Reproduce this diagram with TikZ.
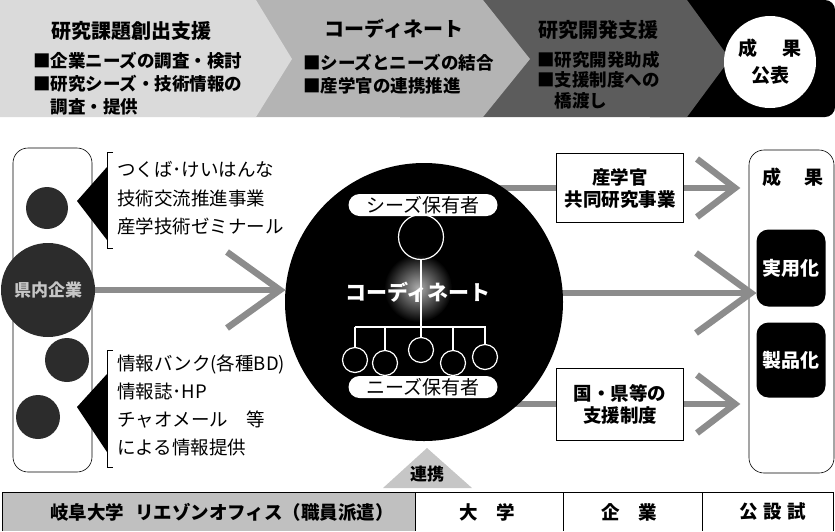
\documentclass[tikz,border=0pt]{standalone}
\usepackage{fontspec}
\setmainfont{Noto Sans CJK JP}
\usetikzlibrary{calc}
\pgfdeclarelayer{bg}
\pgfsetlayers{bg,main}
\definecolor{segA}{HTML}{DADADA}
\definecolor{segB}{HTML}{B4B4B4}
\definecolor{segC}{HTML}{5C5C5C}
\definecolor{glc}{HTML}{8C8C8C}
\definecolor{dkc}{HTML}{2C2C2C}
\definecolor{tabg}{HTML}{C0C0C0}
\definecolor{trig}{HTML}{C6C6C6}
\tikzset{
  gline/.style={line width=6.5pt, draw=glc, line join=miter},
  ttl/.style={font=\fontsize{20}{24}\selectfont\bfseries, inner sep=0},
  tln/.style={font=\fontsize{17.5}{23}\selectfont\bfseries, align=left, inner sep=0, anchor=west},
  bod/.style={font=\fontsize{18.5}{28.5}\selectfont, align=left, inner sep=0, anchor=west},
  pill/.style={fill=white, rounded corners=11pt, minimum width=149pt, minimum height=22pt, inner sep=0, font=\fontsize{19}{22}\selectfont},
  wbox/.style={draw=black, line width=0.6pt, fill=white, minimum width=127pt, inner sep=0, align=center, font=\fontsize{18.5}{22}\selectfont\bfseries},
  bbox/.style={fill=black, rounded corners=12pt, minimum width=69pt, inner sep=0, text=white, font=\fontsize{19}{22}\selectfont\bfseries},
  dot/.style={circle, fill=dkc, inner sep=0},
  wring/.style={circle, draw=white, line width=1.2pt, inner sep=0},
  tabt/.style={font=\fontsize{18.5}{22}\selectfont\bfseries, inner sep=0}
}
\begin{document}
\begin{tikzpicture}[x=1pt,y=-1pt]
\useasboundingbox (0,0) rectangle (835,531);
% ---------- top band ----------
\fill[black, rounded corners=10pt] (640,0) rectangle (835,117);
\fill[segC] (400,0) -- (687,0) -- (730,59) -- (687,117) -- (400,117) -- cycle;
\fill[segB] (200,0) -- (483,0) -- (530,59) -- (483,117) -- (200,117) -- cycle;
\fill[segA] (0,0) -- (256,0) -- (292,59) -- (256,117) -- (0,117) -- cycle;
\node[ttl] (t1) at (131,31) {研究課題創出支援};
\node[tln] (l1) at (33,84) {■企業ニーズの調査・検討\\■研究シーズ・技術情報の\\\hspace{1em}調査・提供};
\node[ttl] (t2) at (394,29) {コーディネート};
\node[tln] (l2) at (303,74) {■シーズとニーズの結合\\■産学官の連携推進};
\node[ttl] (t3) at (598,30) {研究開発支援};
\node[tln, font=\fontsize{17.5}{20.5}\selectfont\bfseries] (l3) at (537,80) {■研究開発助成\\■支援制度への\\\hspace{1em}橋渡し};
\node[circle, fill=white, minimum size=92pt, inner sep=0, align=center,
      font=\fontsize{19}{27}\selectfont\bfseries] (pub) at (770,62) {成\hspace{1.3em}果\\公表};
% ---------- left block ----------
\node[draw=black, line width=0.6pt, rounded corners=15pt, minimum width=79pt, minimum height=324pt] (lrect) at (52.5,310) {};
\node[dot, minimum size=42pt] (c1) at (47,208) {};
\node[dot, minimum size=94pt, text=gray!45, font=\fontsize{17}{20}\selectfont\bfseries] (kennai) at (48,290) {県内企業};
\node[dot, minimum size=44pt] (c3) at (67,360) {};
\node[dot, minimum size=44pt] (c4) at (38,417) {};
% brackets with pointers
\draw[line width=1pt] (113,152) -- (107,152) -- (107,248) -- (113,248);
\fill (107,167) -- (77,201) -- (107,240) -- cycle;
\draw[line width=1pt] (113,350) -- (107,350) -- (107,467) -- (113,467);
\fill (107,374) -- (77,407) -- (107,452) -- cycle;
\node[bod] (b1) at (117,198.5) {つくば･けいはんな\\技術交流推進事業\\産学技術ゼミナール};
\node[bod, font=\fontsize{18.5}{28}\selectfont] (b2) at (117,405) {情報バンク(各種BD)\\情報誌･HP\\チャオメール\hspace{1em}等\\による情報提供};
% ---------- centre ----------
\node[circle, fill=black, minimum size=278pt, inner sep=0] (coord) at (424,302) {};
\shade[inner color=gray!65, outer color=black] (418,288) circle (34);
\node[pill] (seeds) at (423,205) {シーズ保有者};
\node[wring, minimum size=45pt] (sc) at (421,237) {};
\node[pill] (needs) at (423,387) {ニーズ保有者};
\node[text=white, inner sep=0, font=\fontsize{21}{24}\selectfont\bfseries] (cw) at (418,292) {コーディネート};
\coordinate (bar) at (421,327);
\draw[white, line width=1.2pt] (sc) -- (bar);
\draw[white, line width=1.2pt] (355,327) -- (486,327);
\foreach \i/\x/\y in {1/355/360,2/385/363,3/421/350,4/453/363,5/485/357}{
  \node[wring, minimum size=25pt] (n\i) at (\x,\y) {};
  \draw[white, line width=1.2pt] (\x,327) -- (n\i);
}
% ---------- right side ----------
\node[wbox, minimum height=69pt] (box1) at (620,188) {産学官\\共同研究事業};
\node[wbox, minimum height=72pt] (box2) at (620,404) {国・県等の\\支援制度};
\node[draw=black, line width=0.6pt, rounded corners=15pt, minimum width=85pt, minimum height=323pt] (rrect) at (791.5,311.5) {};
\node[inner sep=0, font=\fontsize{19}{22}\selectfont\bfseries] (seika) at (793,177) {成\hspace{1.2em}果};
\node[bbox, minimum height=77pt] (jitsu) at (791,268) {実用化};
\node[bbox, minimum height=75pt] (seihin) at (791,360) {製品化};
% ---------- grey connectors ----------
\coordinate (tipA) at (280,290);
\coordinate (tipM) at (751,293);
\coordinate (tipT) at (735,188);
\coordinate (tipB) at (735,404);
\begin{pgfonlayer}{bg}
  \draw[gline] (kennai.center) -- (tipA);
  \draw[gline] (coord.center |- tipM) -- (tipM);
  \draw[gline] (coord.center |- box1.west) -- (box1.west);
  \draw[gline] (coord.center |- box2.west) -- (box2.west);
\end{pgfonlayer}
\draw[gline] ($(tipA)+(-53,-38)$) -- (tipA) -- ($(tipA)+(-53,38)$);
\draw[gline] ($(tipM)+(-55,-40)$) -- (tipM) -- ($(tipM)+(-55,40)$);
\draw[gline] (box1.east) -- (tipT);
\draw[gline] ($(tipT)+(-38,-29)$) -- (tipT) -- ($(tipT)+(-38,29)$);
\draw[gline] (box2.east) -- (tipB);
\draw[gline] ($(tipB)+(-38,-29)$) -- (tipB) -- ($(tipB)+(-38,29)$);
% ---------- bottom ----------
\fill[trig] (383,488) -- (427,448) -- (472,488) -- cycle;
\node[inner sep=0, font=\fontsize{17}{20}\selectfont\bfseries] (renkei) at (427,474) {連携};
\fill[tabg] (2,492) rectangle (415,531);
\draw[line width=0.8pt] (2,531) -- (2,492) -- (833,492) -- (833,531);
\draw[line width=0.8pt] (415,492) -- (415,531);
\draw[line width=0.8pt] (563,492) -- (563,531);
\draw[line width=0.8pt] (702,492) -- (702,531);
\node[tabt] (gifu) at (222,512) {岐阜大学\hspace{0.6em}リエゾンオフィス（職員派遣）};
\node[tabt] (dai) at (487,512) {大\hspace{1em}学};
\node[tabt] (kig) at (629,512) {企\hspace{1em}業};
\node[tabt] (kos) at (773,512) {公\hspace{0.3em}設\hspace{0.3em}試};
\end{tikzpicture}
\end{document}
